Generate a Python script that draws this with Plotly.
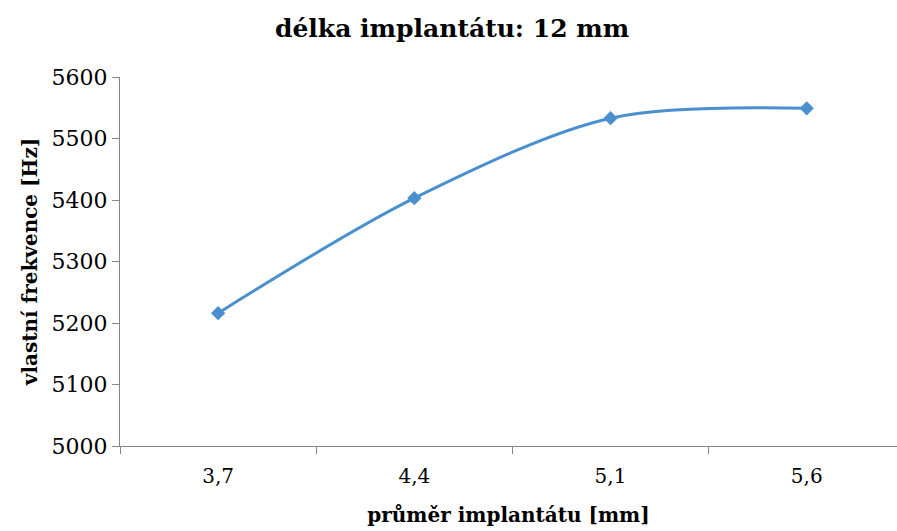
import plotly.graph_objects as go

categories = ["3,7", "4,4", "5,1", "5,6"]
values = [5216, 5403, 5533, 5549]
y_ticks = [5000, 5100, 5200, 5300, 5400, 5500, 5600]

serif = "DejaVu Serif"

fig = go.Figure()
fig.add_trace(go.Scatter(
    x=categories, y=values, mode="lines+markers",
    line=dict(color="#4A90CF", width=3, shape="spline", smoothing=0.9),
    marker=dict(symbol="diamond", size=11, color="#4A90CF"),
    showlegend=False,
))

fig.update_layout(
    width=897, height=531,
    margin=dict(l=120, r=0, t=77, b=85),
    paper_bgcolor="white", plot_bgcolor="white",
    title=dict(text="<b>délka implantátu: 12 mm</b>", x=0.504, xanchor="center",
               y=0.946, yanchor="middle",
               font=dict(family=serif, size=25, color="black")),
    font=dict(family=serif, color="black"),
)
fig.update_xaxes(
    type="category", range=[-0.5, 3.46],
    showline=True, linecolor="#868686", linewidth=1,
    ticks="outside", tickson="boundaries", ticklen=7, tickcolor="#868686",
    tickfont=dict(family=serif, size=20, color="black"),
    ticklabelstandoff=12,
    showgrid=False, zeroline=False,
    title=dict(text="<b>průměr implantátu [mm]</b>", standoff=20,
               font=dict(family=serif, size=20, color="black")),
)
fig.update_yaxes(
    range=[5000, 5600], tickvals=y_ticks,
    showline=True, linecolor="#868686", linewidth=1,
    ticks="outside", ticklen=7, tickcolor="#868686",
    tickfont=dict(family=serif, size=22, color="black"),
    showgrid=False, zeroline=False,
    title=dict(text="<b>vlastní frekvence [Hz]</b>", standoff=8,
               font=dict(family=serif, size=20, color="black")),
)

fig.write_html("out.html")
